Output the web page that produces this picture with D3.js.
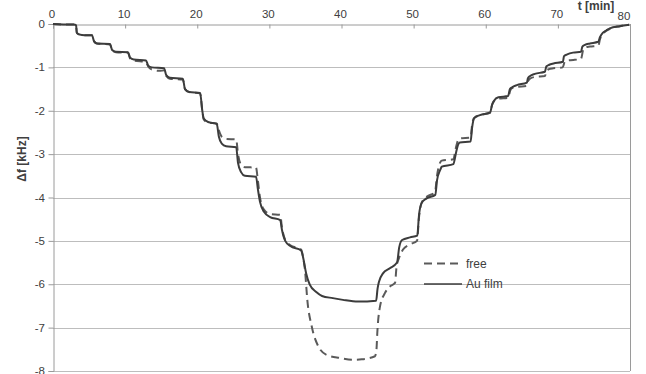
<!DOCTYPE html>
<html>
<head>
<meta charset="utf-8">
<script src="https://cdn.jsdelivr.net/npm/d3@7"></script>
<style>
  html, body { margin: 0; padding: 0; background: #fff; }
  svg { display: block; }
  text { font-family: "Liberation Sans", "DejaVu Sans", sans-serif; fill: #404040; }
</style>
</head>
<body>
<svg id="chart" width="646" height="374"></svg>
<script>
// Frequency shift Δf (kHz) versus time (min) for two sensor configurations
const xTicks = [0, 10, 20, 30, 40, 50, 60, 70, 80];
const yTicks = [0, -1, -2, -3, -4, -5, -6, -7, -8];
const seriesNames = ["free", "Au film"];

// [t (min), Δf (kHz)]
const freeData = [
  [0,0],[1.4,-0.01],[2.9,-0.01],[3.2,-0.03],[3.3,-0.2],[3.6,-0.24],[4.4,-0.26],[5.4,-0.26],
  [5.7,-0.4],[6.1,-0.45],[7.9,-0.47],[8.2,-0.6],[8.7,-0.65],[10.4,-0.66],[10.7,-0.8],[11.2,-0.84],
  [12.9,-0.88],[13.2,-0.98],[13.7,-1.05],[14.8,-1.08],[15.4,-1.07],[15.7,-1.2],[16.2,-1.26],
  [18.0,-1.28],[18.3,-1.5],[18.9,-1.57],[20.4,-1.6],[20.7,-2.0],[20.9,-2.2],[21.5,-2.27],
  [22.7,-2.3],[23.0,-2.45],[23.4,-2.6],[24.0,-2.65],[25.4,-2.66],[25.65,-3.0],[26.1,-3.25],
  [26.6,-3.3],[28.15,-3.31],[28.4,-3.6],[28.7,-4.0],[29.25,-4.28],[30.1,-4.38],[31.5,-4.4],
  [31.75,-4.7],[32.2,-4.98],[32.9,-5.1],[34.4,-5.2],[34.7,-5.4],[34.95,-5.7],[35.26,-6.36],
  [35.87,-6.97],[36.78,-7.43],[37.95,-7.63],[39.8,-7.7],[41.64,-7.74],[42.8,-7.73],[44.64,-7.66],
  [44.85,-7.5],[44.96,-7.13],[45.34,-6.51],[46.03,-6.2],[46.72,-6.05],[47.42,-5.97],[47.63,-5.6],
  [47.97,-5.4],[48.53,-5.2],[49.5,-5.08],[50.47,-5.0],[50.75,-4.45],[51.16,-4.1],[51.85,-3.98],
  [52.96,-3.88],[53.24,-3.5],[53.66,-3.2],[53.89,-3.15],[55.5,-3.12],[55.87,-2.85],[56.15,-2.68],
  [56.43,-2.64],[57.91,-2.62],[58.09,-2.35],[58.37,-2.17],[59.2,-2.1],[60.59,-2.05],[60.87,-1.87],
  [61.14,-1.78],[61.74,-1.72],[63.13,-1.7],[63.36,-1.55],[63.64,-1.48],[64.29,-1.45],[65.68,-1.43],
  [65.86,-1.32],[66.13,-1.26],[66.83,-1.22],[68.21,-1.2],[68.42,-1.08],[68.77,-1.04],[69.37,-1.02],
  [70.67,-1.0],[70.95,-0.87],[71.3,-0.84],[72.14,-0.83],[73.21,-0.8],[73.5,-0.6],[73.76,-0.54],
  [74.45,-0.52],[75.61,-0.5],[75.84,-0.35],[76.26,-0.22],[76.67,-0.16],[77.23,-0.11],[78.57,-0.05],
  [79.88,-0.02]
];

const auFilmData = [
  [0,0],[1.4,-0.01],[2.9,-0.01],[3.2,-0.03],[3.3,-0.2],[3.6,-0.24],[4.4,-0.26],[5.4,-0.26],
  [5.7,-0.4],[6.1,-0.45],[7.9,-0.46],[8.2,-0.6],[8.7,-0.64],[10.4,-0.65],[10.7,-0.78],[11.2,-0.82],
  [12.9,-0.84],[13.2,-0.96],[13.7,-1.0],[15.4,-1.02],[15.7,-1.18],[16.2,-1.24],[18.0,-1.26],
  [18.3,-1.5],[18.9,-1.57],[20.4,-1.59],[20.7,-2.0],[20.9,-2.18],[21.5,-2.26],[22.7,-2.3],
  [23.0,-2.6],[23.4,-2.76],[24.0,-2.82],[25.4,-2.84],[25.65,-3.2],[26.1,-3.42],[26.6,-3.5],
  [28.15,-3.52],[28.4,-3.8],[28.7,-4.1],[29.25,-4.33],[30.1,-4.45],[31.5,-4.52],[31.75,-4.75],
  [32.2,-5.0],[32.9,-5.12],[34.4,-5.22],[34.7,-5.4],[35.1,-5.75],[35.6,-6.01],[36.5,-6.18],
  [37.3,-6.27],[38.8,-6.32],[40.2,-6.36],[42.3,-6.4],[44.8,-6.38],[45.0,-6.1],[45.2,-5.94],
  [45.75,-5.75],[46.7,-5.63],[47.7,-5.5],[48.0,-5.15],[48.4,-4.98],[49.5,-4.92],[50.5,-4.88],
  [50.75,-4.4],[51.1,-4.13],[51.8,-4.02],[53.0,-3.94],[53.25,-3.6],[53.7,-3.36],[53.9,-3.29],
  [55.5,-3.23],[55.9,-2.95],[56.15,-2.79],[56.4,-2.73],[57.9,-2.71],[58.1,-2.4],[58.4,-2.17],
  [59.2,-2.1],[60.6,-2.04],[60.9,-1.85],[61.15,-1.77],[61.75,-1.69],[63.1,-1.66],[63.35,-1.5],
  [63.65,-1.46],[64.3,-1.41],[65.7,-1.35],[65.85,-1.25],[66.15,-1.2],[66.8,-1.15],[68.2,-1.1],
  [68.4,-0.98],[68.8,-0.94],[69.4,-0.91],[70.7,-0.87],[70.85,-0.74],[71.3,-0.7],[72.1,-0.66],
  [73.2,-0.64],[73.4,-0.52],[73.75,-0.48],[74.45,-0.45],[75.6,-0.41],[75.85,-0.3],[76.25,-0.2],
  [76.7,-0.15],[77.2,-0.1],[78.6,-0.05],[79.9,-0.02]
];

const svg = d3.select("#chart");
const plotLeft = 53, plotRight = 630, plotTop = 24, plotBottom = 371;

const x = d3.scaleLinear().domain([0, 80]).range([plotLeft, plotRight]);
const y = d3.scaleLinear().domain([0, -8]).range([plotTop, plotBottom]);

svg.append("rect").attr("width", 646).attr("height", 374).attr("fill", "#fff");

// horizontal gridlines
svg.append("g")
  .selectAll("line")
  .data(yTicks.filter(d => d !== 0))
  .join("line")
  .attr("x1", plotLeft).attr("x2", plotRight)
  .attr("y1", d => Math.round(y(d)) + 0.5).attr("y2", d => Math.round(y(d)) + 0.5)
  .attr("stroke", "#bdbdbd").attr("stroke-width", 1);

// right border of plot area
svg.append("line")
  .attr("x1", plotRight + 0.5).attr("x2", plotRight + 0.5)
  .attr("y1", plotTop).attr("y2", plotBottom)
  .attr("stroke", "#9a9a9a").attr("stroke-width", 1);

// top time axis (ticks point into the plot)
const xAxis = d3.axisTop(x).tickValues(xTicks).tickSize(-4).tickFormat("");
const gx = svg.append("g").attr("transform", `translate(0,${Math.round(y(0)) + 0.5})`).call(xAxis);
gx.select(".domain").attr("stroke", "#9a9a9a");
gx.selectAll(".tick line").attr("stroke", "#9a9a9a");

svg.append("g").selectAll("text")
  .data(xTicks)
  .join("text")
  .attr("x", d => d === 80 ? x(d) - 6 : x(d) - 1)
  .attr("y", d => d === 80 ? 19.5 : 18)
  .attr("text-anchor", "middle")
  .attr("font-size", 11.5)
  .text(d => d);

svg.append("text")
  .attr("x", 596).attr("y", 10)
  .attr("text-anchor", "middle")
  .attr("font-size", 12).attr("font-weight", "bold")
  .text("t [min]");

// left Δf axis
const yAxis = d3.axisLeft(y).tickValues(yTicks).tickSize(5).tickFormat("");
const gy = svg.append("g").attr("transform", `translate(${plotLeft + 0.5},0)`).call(yAxis);
gy.select(".domain").attr("stroke", "#9a9a9a");
gy.selectAll(".tick line").attr("stroke", "#9a9a9a");

svg.append("g").selectAll("text")
  .data(yTicks)
  .join("text")
  .attr("x", 45)
  .attr("y", d => y(d) + 4)
  .attr("text-anchor", "end")
  .attr("font-size", 11.5)
  .text(d => d);

svg.append("text")
  .attr("transform", "translate(26,159) rotate(-90)")
  .attr("text-anchor", "middle")
  .attr("font-size", 12).attr("font-weight", "bold")
  .text("Δf [kHz]");

// series
const line = d3.line()
  .x(d => x(d[0]))
  .y(d => y(d[1]))
  .curve(d3.curveMonotoneX);

svg.append("path")
  .datum(freeData)
  .attr("d", line)
  .attr("fill", "none")
  .attr("stroke", "#5a5a5a")
  .attr("stroke-width", 2)
  .attr("stroke-dasharray", "8,5");

svg.append("path")
  .datum(auFilmData)
  .attr("d", line)
  .attr("fill", "none")
  .attr("stroke", "#3c3c3c")
  .attr("stroke-width", 2);

// legend
const legend = svg.append("g");
const legendRows = [
  { name: seriesNames[0], dash: "8,5", color: "#5a5a5a", yPos: 263.5 },
  { name: seriesNames[1], dash: null, color: "#3c3c3c", yPos: 284 }
];
legendRows.forEach(r => {
  legend.append("line")
    .attr("x1", 424).attr("x2", 462)
    .attr("y1", r.yPos).attr("y2", r.yPos)
    .attr("stroke", r.color).attr("stroke-width", r.dash ? 2 : 1.5)
    .attr("stroke-dasharray", r.dash);
  legend.append("text")
    .attr("x", 466).attr("y", r.yPos + 4)
    .attr("font-size", 12)
    .text(r.name);
});
</script>
</body>
</html>
